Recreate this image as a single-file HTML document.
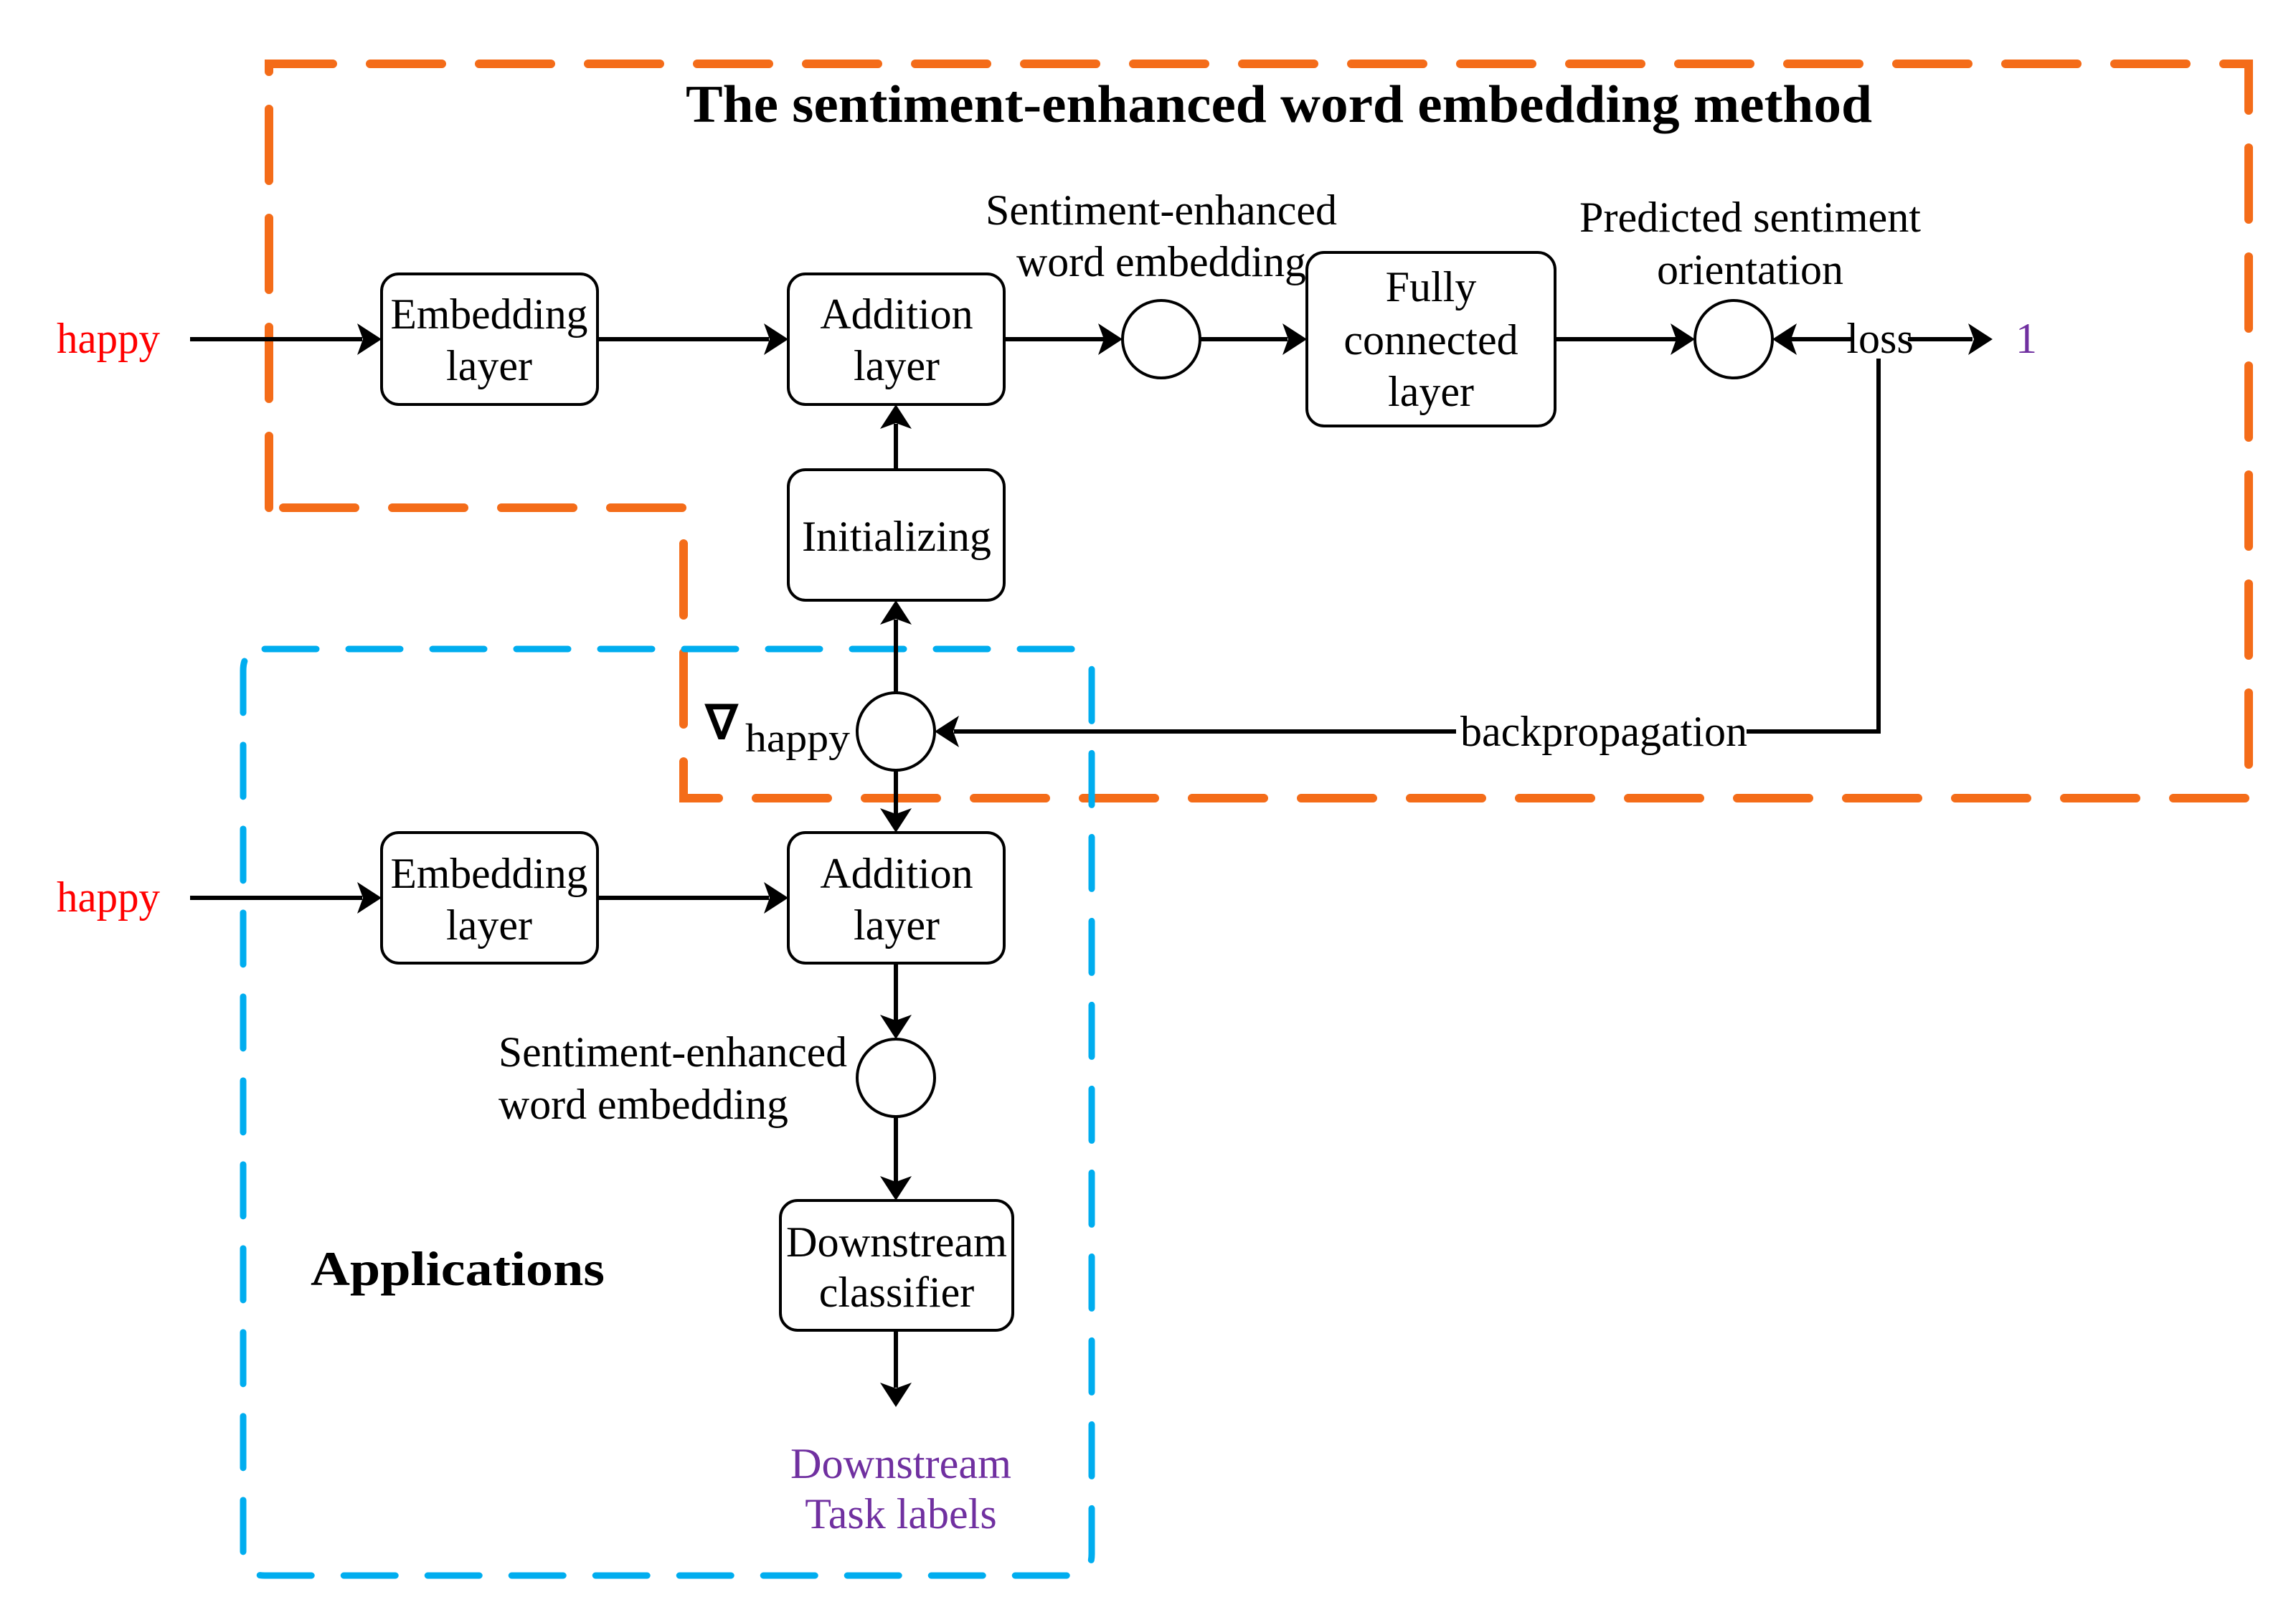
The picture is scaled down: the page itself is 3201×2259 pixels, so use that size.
<!DOCTYPE html>
<html><head><meta charset="utf-8"><style>body{margin:0;background:#fff}svg{display:block}</style></head>
<body>
<svg width="3201" height="2259" viewBox="0 0 3201 2259" xmlns="http://www.w3.org/2000/svg">
<g fill="none" stroke-linecap="round">
<path d="M375,708 V89 H3135 V1113 H953 V708 H375" stroke="#f46c19" stroke-width="12" stroke-dasharray="100 52"/>
<path d="M369,905 H1492 Q1522,905 1522,935 V2167 Q1522,2197 1492,2197 H369 Q339,2197 339,2167 V935 Q339,905 369,905 Z" stroke="#00adef" stroke-width="9" stroke-dasharray="72 45"/>
</g>
<g fill="#fff" stroke="#000" stroke-width="4">
<rect x="532" y="382" width="301" height="182" rx="24"/>
<rect x="1099" y="382" width="301" height="182" rx="24"/>
<rect x="1099" y="655" width="301" height="182" rx="24"/>
<rect x="1822" y="352" width="346" height="242" rx="24"/>
<rect x="532" y="1161" width="301" height="182" rx="24"/>
<rect x="1099" y="1161" width="301" height="182" rx="24"/>
<rect x="1088" y="1674" width="324" height="181" rx="24"/>
<circle cx="1619" cy="473" r="54"/>
<circle cx="2417" cy="473" r="54"/>
<circle cx="1249" cy="1020" r="54"/>
<circle cx="1249" cy="1503" r="54"/>
</g>
<g stroke="#000" stroke-width="6" fill="none">
<path d="M265,473 H505"/><path d="M833,473 H1072"/><path d="M1400,473 H1540"/><path d="M1673,473 H1795"/><path d="M2168,473 H2338"/>
<path d="M2585,473 H2496"/><path d="M2660,473 H2750"/>
<path d="M2619,480 V1020 H1330"/>
<path d="M1249,966 V864"/><path d="M1249,655 V591"/><path d="M1249,1074 V1140"/>
<path d="M265,1252 H505"/><path d="M833,1252 H1072"/>
<path d="M1249,1343 V1424"/><path d="M1249,1557 V1648"/><path d="M1249,1855 V1935"/>
</g>
<g fill="#000">
<path d="M532,473 l-34,-22 l8,22 l-8,22z"/>
<path d="M1099,473 l-34,-22 l8,22 l-8,22z"/>
<path d="M1565,473 l-34,-22 l8,22 l-8,22z"/>
<path d="M1822,473 l-34,-22 l8,22 l-8,22z"/>
<path d="M2363,473 l-34,-22 l8,22 l-8,22z"/>
<path d="M2471,473 l34,-22 l-8,22 l8,22z"/>
<path d="M2778,473 l-34,-22 l8,22 l-8,22z"/>
<path d="M1303,1020 l34,-22 l-8,22 l8,22z"/>
<path d="M1249,837 l-22,34 l22,-8 l22,8z"/>
<path d="M1249,564 l-22,34 l22,-8 l22,8z"/>
<path d="M1249,1161 l-22,-34 l22,8 l22,-8z"/>
<path d="M532,1252 l-34,-22 l8,22 l-8,22z"/>
<path d="M1099,1252 l-34,-22 l8,22 l-8,22z"/>
<path d="M1249,1449 l-22,-34 l22,8 l22,-8z"/>
<path d="M1249,1674 l-22,-34 l22,8 l22,-8z"/>
<path d="M1249,1962 l-22,-34 l22,8 l22,-8z"/>
</g>
<g font-family="Liberation Serif, serif" font-size="60" text-anchor="middle" fill="#000">
<text x="1783" y="170" font-weight="bold" font-size="74" textLength="1654" lengthAdjust="spacingAndGlyphs">The sentiment-enhanced word embedding method</text>
<text x="151" y="492" fill="#f00" textLength="144" lengthAdjust="spacingAndGlyphs">happy</text>
<text x="682" y="458" textLength="275" lengthAdjust="spacingAndGlyphs">Embedding</text>
<text x="682" y="530">layer</text>
<text x="1250" y="458">Addition</text>
<text x="1250" y="530">layer</text>
<text x="1250" y="768" textLength="264" lengthAdjust="spacingAndGlyphs">Initializing</text>
<text x="1619" y="313" textLength="490" lengthAdjust="spacingAndGlyphs">Sentiment-enhanced</text>
<text x="1619" y="385" textLength="404" lengthAdjust="spacingAndGlyphs">word embedding</text>
<text x="1995" y="420">Fully</text>
<text x="1995" y="494">connected</text>
<text x="1995" y="566">layer</text>
<text x="2440" y="323" textLength="476" lengthAdjust="spacingAndGlyphs">Predicted sentiment</text>
<text x="2440" y="396">orientation</text>
<rect x="2590" y="445" width="62" height="55" fill="#fff"/>
<text x="2621" y="492">loss</text>
<text x="2825" y="492" fill="#7030a0">1</text>
<rect x="2030" y="985" width="405" height="70" fill="#fff"/>
<text x="2236" y="1040" textLength="400" lengthAdjust="spacingAndGlyphs">backpropagation</text>
<text x="1006" y="1030" font-size="66" font-weight="bold">∇</text>
<text x="1112" y="1048" font-size="56" textLength="146" lengthAdjust="spacingAndGlyphs">happy</text>
<text x="151" y="1271" fill="#f00" textLength="144" lengthAdjust="spacingAndGlyphs">happy</text>
<text x="682" y="1238" textLength="275" lengthAdjust="spacingAndGlyphs">Embedding</text>
<text x="682" y="1310">layer</text>
<text x="1250" y="1238">Addition</text>
<text x="1250" y="1310">layer</text>
<text x="695" y="1487" text-anchor="start" textLength="486" lengthAdjust="spacingAndGlyphs">Sentiment-enhanced</text>
<text x="695" y="1560" text-anchor="start" textLength="404" lengthAdjust="spacingAndGlyphs">word embedding</text>
<text x="1250" y="1752" textLength="308" lengthAdjust="spacingAndGlyphs">Downstream</text>
<text x="1250" y="1822">classifier</text>
<text x="433" y="1792" text-anchor="start" font-weight="bold" font-size="68" textLength="410" lengthAdjust="spacingAndGlyphs">Applications</text>
<text x="1256" y="2061" fill="#7030a0" textLength="308" lengthAdjust="spacingAndGlyphs">Downstream</text>
<text x="1256" y="2131" fill="#7030a0">Task labels</text>
</g>
</svg>
</body></html>
